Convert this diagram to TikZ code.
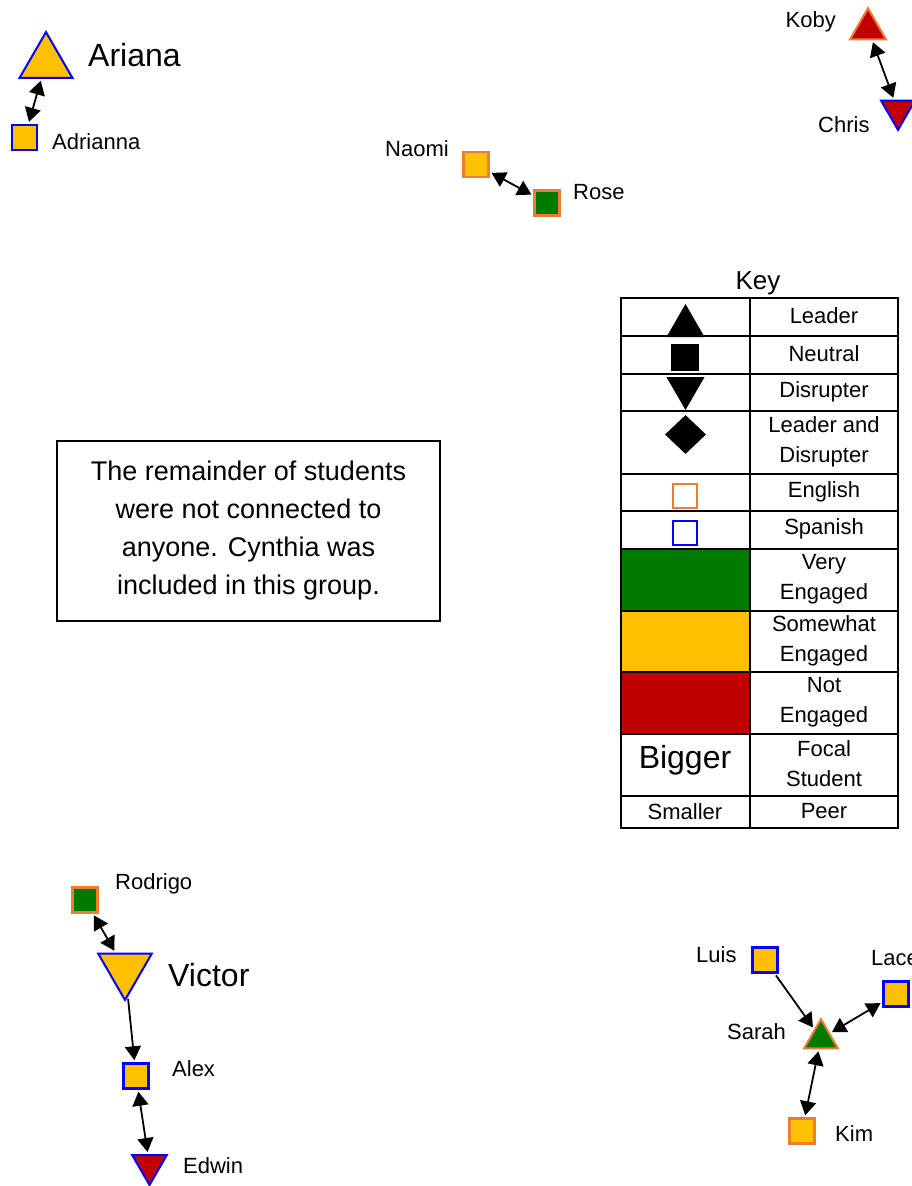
\documentclass[tikz,border=0pt]{standalone}
\usepackage{fontspec}
\setmainfont{Liberation Sans}
\usetikzlibrary{shapes.geometric,arrows.meta}
\definecolor{engsome}{HTML}{FFC000}
\definecolor{engvery}{HTML}{007A00}
\definecolor{engnot}{HTML}{C00000}
\definecolor{english}{HTML}{ED7D31}
\definecolor{spanish}{HTML}{0000FF}
\tikzset{
  leader/.style={regular polygon, regular polygon sides=3, inner sep=0pt, line width=2pt, draw},
  disrupter/.style={leader, shape border rotate=180},
  neutral/.style={rectangle, minimum size=25pt, inner sep=0pt, line width=2.5pt, draw},
  link/.style={line width=1.8pt, -{Triangle[length=14pt,width=16pt]}, shorten <=2pt, shorten >=2pt},
  mutual/.style={link, {Triangle[length=14pt,width=16pt]}-{Triangle[length=14pt,width=16pt]}},
  peer/.style={font=\fontsize{22}{26}\selectfont, inner sep=0pt, anchor=base west},
  focal/.style={font=\fontsize{32}{36}\selectfont, inner sep=0pt, anchor=base west},
  cell/.style={font=\fontsize{22}{30}\selectfont, align=center, inner sep=0pt},
}
\begin{document}
\begin{tikzpicture}[x=1pt,y=-1pt]
  \clip (0,0) rectangle (912,1186);
  % Ariana and Adrianna
  \node[leader, minimum size=61pt, fill=engsome, draw=spanish] (ariana) at (46,62.6) {};
  \node[focal] (arianaL) at (88,66) {Ariana};
  \node[neutral, fill=engsome, draw=spanish] (adrianna) at (24.5,137.5) {};
  \node[peer] (adriannaL) at (52,149) {Adrianna};
  \draw[mutual] (ariana) -- (adrianna);
  % Koby and Chris
  \node[leader, minimum size=41.6pt, fill=engnot, draw=english] (koby) at (868,29) {};
  \node[peer, anchor=base east] (kobyL) at (836,27) {Koby};
  \node[disrupter, minimum size=39pt, fill=engnot, draw=spanish] (chris) at (898,110.4) {};
  \node[peer] (chrisL) at (818,132) {Chris};
  \draw[mutual] (koby) -- (chris);
  % Naomi and Rose
  \node[neutral, fill=engsome, draw=english] (naomi) at (476,164.5) {};
  \node[peer] (naomiL) at (385,156) {Naomi};
  \node[neutral, fill=engvery, draw=english] (rose) at (547,203) {};
  \node[peer] (roseL) at (573,199) {Rose};
  \draw[mutual] (naomi) -- (rose);
  % Victor's group
  \node[neutral, fill=engvery, draw=english] (rodrigo) at (85,900) {};
  \node[peer] (rodrigoL) at (115,889) {Rodrigo};
  \node[disrupter, minimum size=62pt, fill=engsome, draw=spanish] (victor) at (125,969) {};
  \node[focal] (victorL) at (168,986) {Victor};
  \node[neutral, fill=engsome, draw=spanish] (alex) at (136,1076) {};
  \node[peer] (alexL) at (172,1076) {Alex};
  \node[disrupter, minimum size=40pt, fill=engnot, draw=spanish] (edwin) at (149.5,1165) {};
  \node[peer] (edwinL) at (183,1173) {Edwin};
  \draw[mutual] (rodrigo) -- (victor);
  \draw[link] (victor) -- (alex);
  \draw[mutual] (alex) -- (edwin);
  % Sarah's group
  \node[neutral, fill=engsome, draw=spanish] (luis) at (765,960) {};
  \node[peer] (luisL) at (696,962) {Luis};
  \node[neutral, fill=engsome, draw=spanish] (lacey) at (896,994) {};
  \node[peer] (laceyL) at (871,965) {Lacey};
  \node[leader, minimum size=39pt, fill=engvery, draw=english] (sarah) at (821,1038.6) {};
  \node[peer] (sarahL) at (727,1039) {Sarah};
  \node[neutral, fill=engsome, draw=english] (kim) at (802,1131) {};
  \node[peer] (kimL) at (835,1141) {Kim};
  \draw[link] (luis) -- (sarah);
  \draw[mutual] (lacey) -- (sarah);
  \draw[mutual] (sarah) -- (kim);
  % Note
  \node[draw, line width=1.5pt, minimum width=383pt, minimum height=180pt, align=center,
    font=\fontsize{27}{38}\selectfont] (remainder) at (248.5,531)
    {The remainder of students\\were not connected to\\anyone. Cynthia was\\included in this group.};
  % Key
  \node[font=\fontsize{26}{30}\selectfont, inner sep=0pt, anchor=base] (keyT) at (758,289) {Key};
  \foreach \top/\bot/\shade/\txt in {298/336/white/Leader, 336/374/white/Neutral,
      374/411/white/Disrupter, 411/474/white/{Leader and\\Disrupter}, 474/511/white/English,
      511/549/white/Spanish, 549/611/engvery/{Very\\Engaged}, 611/672/engsome/{Somewhat\\Engaged},
      672/734/engnot/{Not\\Engaged}, 734/796/white/{Focal\\Student}, 796/828/white/Peer}
  {
    \draw[line width=2pt, fill=\shade] (621,\top) rectangle (749.5,\bot);
    \draw[line width=2pt] (749.5,\top) rectangle (898,\bot);
    \node[cell] (key\top) at (824,{(\top+\bot)/2-1}) {\txt};
  }
  \node[leader, minimum size=40pt, fill=black] (keyLeader) at (685.5,326) {};
  \node[neutral, fill=black] (keyNeutral) at (685,357.5) {};
  \node[disrupter, minimum size=40pt, fill=black] (keyDisrupter) at (685.5,388) {};
  \node[diamond, minimum width=41pt, minimum height=39pt, inner sep=0pt, fill=black] (keyBoth) at (685.5,434.5) {};
  \node[neutral, line width=2pt, draw=english, minimum size=24pt] (keyEnglish) at (684.5,496) {};
  \node[neutral, line width=2pt, draw=spanish, minimum size=24pt] (keySpanish) at (684.5,533) {};
  \node[focal, anchor=base] (keyBig) at (685,768) {Bigger};
  \node[cell] (keySmall) at (685,812) {Smaller};
\end{tikzpicture}
\end{document}
